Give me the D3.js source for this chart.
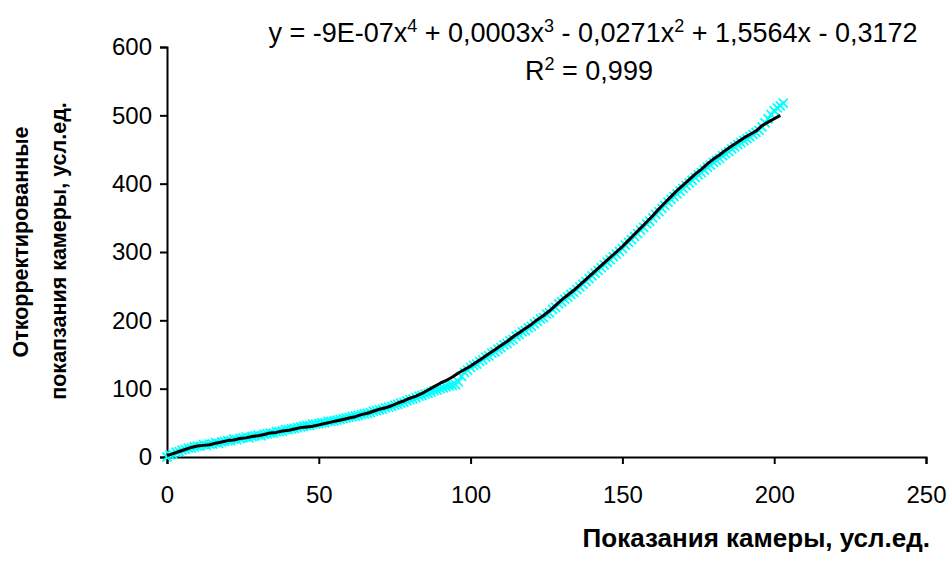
<!DOCTYPE html>
<html>
<head>
<meta charset="utf-8">
<script src="https://cdn.jsdelivr.net/npm/d3@7"></script>
<style>
body { margin: 0; background: #fff; }
text { font-family: "Liberation Sans", Arial, sans-serif; }
</style>
</head>
<body>
<script>
// camera readings (x) and corrected readings (cyan markers)
var pointX = d3.range(0, 204);
var pointY = [0, 3, 4, 7, 8, 10, 11, 13, 13, 15, 16, 16, 18, 17, 19, 19, 21, 20, 22, 23,
    24, 24, 26, 25, 27, 28, 29, 28, 30, 31, 32, 31, 33, 34, 35, 35, 37, 37, 38, 40,
    40, 41, 42, 43, 44, 45, 46, 46, 48, 48, 49, 50, 50, 52, 52, 53, 54, 55, 56, 57,
    58, 59, 60, 61, 62, 63, 64, 65, 67, 68, 69, 70, 72, 73, 74, 76, 77, 79, 80, 82,
    84, 85, 87, 89, 90, 92, 93, 95, 97, 98, 100, 101, 103, 104, 105, 106, 110, 118, 124, 127,
    131, 134, 136, 140, 142, 146, 148, 152, 154, 158, 160, 164, 166, 170, 172, 177, 179, 183, 185, 189,
    191, 195, 198, 202, 204, 209, 211, 216, 219, 224, 227, 231, 234, 238, 241, 245, 249, 253, 257, 261,
    265, 269, 273, 277, 281, 285, 289, 293, 297, 301, 305, 310, 314, 318, 323, 327, 332, 336, 341, 345,
    350, 355, 359, 364, 368, 373, 377, 381, 385, 389, 393, 397, 401, 405, 409, 413, 416, 420, 424, 427,
    431, 434, 437, 441, 444, 447, 451, 454, 457, 460, 463, 466, 469, 472, 475, 478, 483, 489, 495, 501,
    507, 511, 514, 518];

// black line
var lineX = d3.range(0, 204, 2);
var lineY = [2, 5, 8, 11, 14, 16, 17, 18, 20, 22, 24, 25, 27, 28, 30, 31, 33, 35, 36, 38,
    39, 41, 43, 44, 45, 47, 49, 51, 53, 55, 57, 59, 62, 64, 67, 70, 72, 75, 79, 82,
    86, 89, 93, 98, 103, 108, 112, 117, 123, 128, 133, 139, 145, 151, 157, 163, 169, 176, 182, 188,
    194, 201, 207, 214, 222, 230, 237, 244, 252, 260, 268, 276, 284, 292, 300, 308, 317, 326, 335, 344,
    353, 363, 372, 381, 390, 398, 406, 414, 421, 429, 436, 442, 449, 455, 461, 467, 472, 477, 485, 490,
    495, 500];

var xTicks = [0, 50, 100, 150, 200, 250];
var yTicks = [0, 100, 200, 300, 400, 500, 600];

var width = 952;
var height = 577;

var svg = d3.select("body").append("svg")
    .attr("width", width)
    .attr("height", height);

var x = d3.scaleLinear().domain([0, 250]).range([167, 926]);
var y = d3.scaleLinear().domain([0, 600]).range([457, 47]);

// axes
var xAxis = svg.append("g")
    .attr("transform", "translate(0," + y(0) + ")")
    .call(d3.axisBottom(x).tickValues(xTicks).tickSize(7).tickPadding(22));
var yAxis = svg.append("g")
    .attr("transform", "translate(" + x(0) + ",0)")
    .call(d3.axisLeft(y).tickValues(yTicks).tickSize(7).tickPadding(8));

[xAxis, yAxis].forEach(function(g) {
    g.selectAll("path").attr("stroke", "#000").attr("stroke-width", 2);
    g.selectAll("line").attr("stroke", "#000").attr("stroke-width", 2);
    g.selectAll("text")
        .attr("font-size", "24px")
        .attr("fill", "#000")
        .attr("font-family", "Liberation Sans, Arial, sans-serif");
});

// cyan x markers
var m = 4.5;
var pts = svg.append("g").selectAll("path")
    .data(pointX)
    .enter()
    .append("path")
    .attr("d", function(d, i) {
        var cx = x(d), cy = y(pointY[i]);
        return "M" + (cx - m) + "," + (cy - m) + "L" + (cx + m) + "," + (cy + m) +
            "M" + (cx - m) + "," + (cy + m) + "L" + (cx + m) + "," + (cy - m);
    })
    .attr("stroke", "#00ffff")
    .attr("stroke-width", 1.8)
    .attr("fill", "none");

// black line
var line = d3.line()
    .x(function(d) { return x(d); })
    .y(function(d, i) { return y(lineY[i]); });

svg.append("path")
    .datum(lineX)
    .attr("d", line)
    .attr("fill", "none")
    .attr("stroke", "#000")
    .attr("stroke-width", 3)
    .attr("stroke-linejoin", "round");

// equation
var eq = svg.append("text")
    .attr("x", 593)
    .attr("y", 42)
    .attr("text-anchor", "middle")
    .attr("font-size", "27px");
eq.append("tspan").text("y = -9E-07x");
eq.append("tspan").attr("dy", -10).attr("font-size", "18px").text("4");
eq.append("tspan").attr("dy", 10).text(" + 0,0003x");
eq.append("tspan").attr("dy", -10).attr("font-size", "18px").text("3");
eq.append("tspan").attr("dy", 10).text(" - 0,0271x");
eq.append("tspan").attr("dy", -10).attr("font-size", "18px").text("2");
eq.append("tspan").attr("dy", 10).text(" + 1,5564x - 0,3172");

var r2 = svg.append("text")
    .attr("x", 589)
    .attr("y", 80)
    .attr("text-anchor", "middle")
    .attr("font-size", "27px");
r2.append("tspan").text("R");
r2.append("tspan").attr("dy", -10).attr("font-size", "18px").text("2");
r2.append("tspan").attr("dy", 10).text(" = 0,999");

// axis titles
svg.append("text")
    .attr("x", 930)
    .attr("y", 547)
    .attr("text-anchor", "end")
    .attr("font-size", "26px")
    .attr("font-weight", "bold")
    .text("Показания камеры, усл.ед.");

svg.append("text")
    .attr("transform", "translate(28,242) rotate(-90)")
    .attr("text-anchor", "middle")
    .attr("font-size", "21.5px")
    .attr("font-weight", "bold")
    .text("Откорректированные");

svg.append("text")
    .attr("transform", "translate(66,251) rotate(-90)")
    .attr("text-anchor", "middle")
    .attr("font-size", "21.5px")
    .attr("font-weight", "bold")
    .text("покапзания камеры, усл.ед.");
</script>
</body>
</html>
